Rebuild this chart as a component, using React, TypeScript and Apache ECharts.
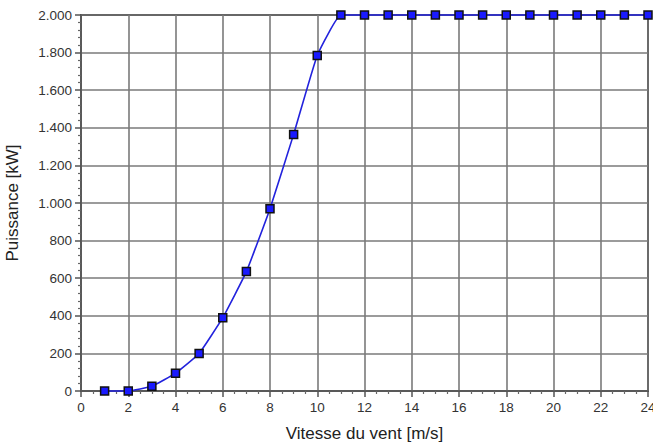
import React, { useEffect, useRef } from "react";
import * as echarts from "echarts";

const windSpeeds: number[] = [1, 2, 3, 4, 5, 6, 7, 8, 9, 10, 11, 12, 13, 14, 15, 16, 17, 18, 19, 20, 21, 22, 23, 24];
const powerKW: number[] = [0, 0, 25, 95, 200, 390, 635, 970, 1365, 1785, 2000, 2000, 2000, 2000, 2000, 2000, 2000, 2000, 2000, 2000, 2000, 2000, 2000, 2000];

const xAxisName = "Vitesse du vent [m/s]";
const yAxisName = "Puissance [kW]";

function fmtThousands(v: number): string {
  const s = String(Math.round(v));
  return s.replace(/\B(?=(\d{3})+(?!\d))/g, ".");
}

export default function App() {
  const ref = useRef<HTMLDivElement>(null);
  useEffect(() => {
    if (!ref.current) return;
    const chart = echarts.init(ref.current, null, { renderer: "svg" });
    const font = "'Liberation Sans', Arial, sans-serif";
    chart.setOption({
      animation: false,
      backgroundColor: "#ffffff",
      grid: {
        left: 81,
        right: 5,
        top: 15,
        bottom: 52,
        containLabel: false,
        outerBoundsMode: "none",
        show: true,
        borderColor: "#333333",
        borderWidth: 2,
        backgroundColor: "transparent",
      },
      xAxis: {
        type: "value",
        min: 0,
        max: 24,
        interval: 2,
        name: xAxisName,
        nameLocation: "middle",
        nameGap: 34,
        nameTextStyle: { color: "#222", fontSize: 17, fontFamily: font },
        axisLine: { show: true, onZero: false, lineStyle: { color: "#555", width: 1.5 } },
        axisTick: { show: true, length: 6, lineStyle: { color: "#555", width: 1.5 } },
        minorTick: { show: true, splitNumber: 4, length: 3, lineStyle: { color: "#666", width: 1.2 } },
        axisLabel: { color: "#333", fontSize: 13.5, fontFamily: font, margin: 9 },
        splitLine: { show: true, lineStyle: { color: "#7a7a7a", width: 1.6 } },
      },
      yAxis: {
        type: "value",
        min: 0,
        max: 2000,
        interval: 200,
        name: yAxisName,
        nameLocation: "middle",
        nameGap: 60,
        nameTextStyle: { color: "#222", fontSize: 17, fontFamily: font },
        axisLine: { show: true, lineStyle: { color: "#555", width: 1.5 } },
        axisTick: { show: true, length: 6, lineStyle: { color: "#555", width: 1.5 } },
        minorTick: { show: true, splitNumber: 5, length: 3, lineStyle: { color: "#666", width: 1.2 } },
        axisLabel: {
          color: "#333",
          fontSize: 13.5,
          fontFamily: font,
          margin: 9,
          formatter: (v: number) => fmtThousands(v),
        },
        splitLine: { show: true, lineStyle: { color: "#7a7a7a", width: 1.6 } },
      },
      series: [
        {
          type: "line",
          data: windSpeeds.map((x, i) => [x, powerKW[i]]),
          smooth: 0.12,
          clip: false,
          symbol: "rect",
          symbolSize: 8,
          lineStyle: { color: "#2222dd", width: 1.6 },
          itemStyle: { color: "#1a1aff", borderColor: "#111", borderWidth: 1.5 },
          z: 5,
        },
      ],
    });
    return () => chart.dispose();
  }, []);
  return (
    <div
      ref={ref}
      style={{ position: "fixed", left: 0, top: 0, width: 653, height: 443 }}
    />
  );
}
